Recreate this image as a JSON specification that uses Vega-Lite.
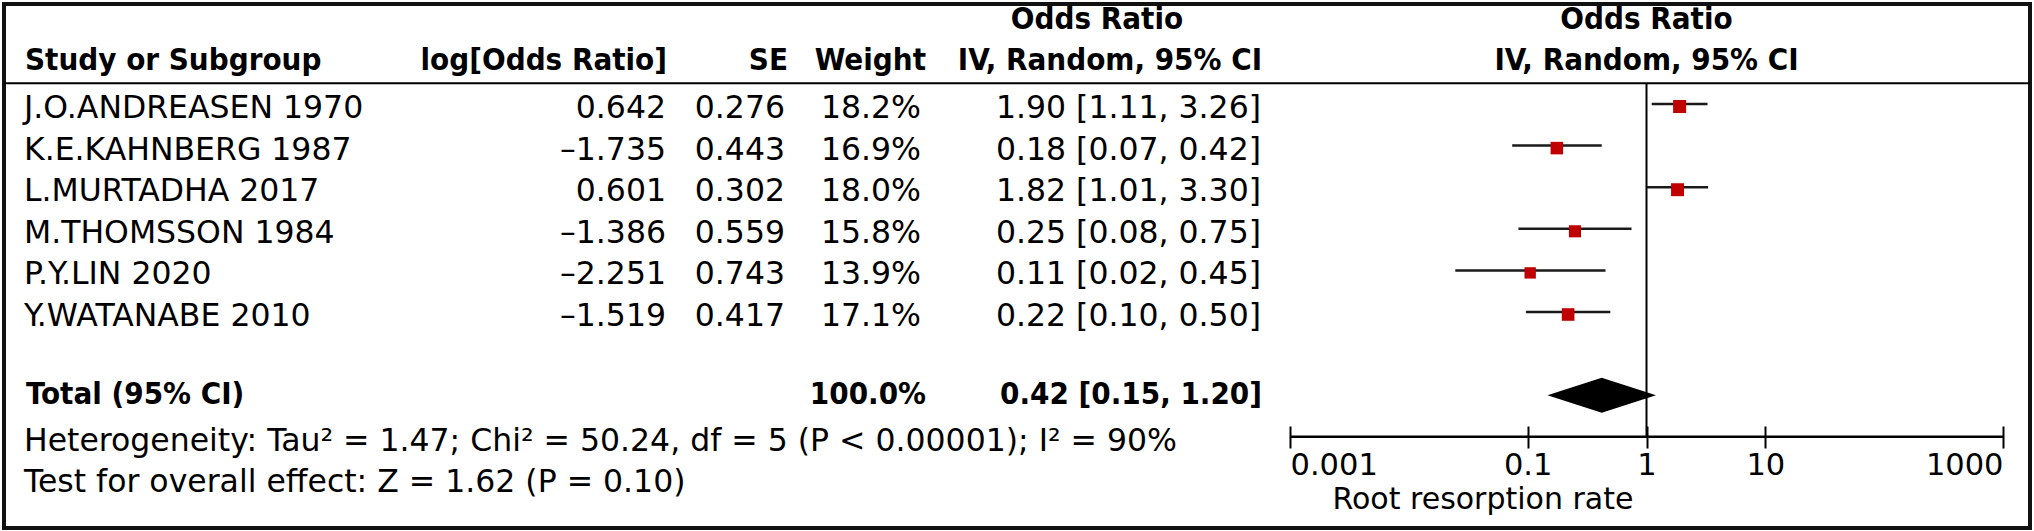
{
  "$schema": "https://vega.github.io/schema/vega-lite/v6.json",
  "width": 2026,
  "height": 524,
  "padding": {"left": 4, "top": 4, "right": 4, "bottom": 3},
  "autosize": {"type": "none"},
  "background": "white",
  "config": {
    "view": {"stroke": "#111", "strokeWidth": 4},
    "text": {"font": "DejaVu Sans", "fontSize": 31.5, "color": "#000", "baseline": "middle"},
    "locale": {"number": {"decimal": ".", "thousands": ",", "grouping": [3], "currency": ["$", ""], "minus": "\u2013"}}
  },
  "datasets": {
    "studies": [
      {"row": "J.O.ANDREASEN 1970", "logOR": 0.642, "se": 0.276, "weight": 0.182, "or": 1.900, "lo": 1.106, "hi": 3.264, "ci": "1.90 [1.11, 3.26]"},
      {"row": "K.E.KAHNBERG 1987", "logOR": -1.735, "se": 0.443, "weight": 0.169, "or": 0.176, "lo": 0.0741, "hi": 0.420, "ci": "0.18 [0.07, 0.42]"},
      {"row": "L.MURTADHA 2017", "logOR": 0.601, "se": 0.302, "weight": 0.180, "or": 1.824, "lo": 1.009, "hi": 3.297, "ci": "1.82 [1.01, 3.30]"},
      {"row": "M.THOMSSON 1984", "logOR": -1.386, "se": 0.559, "weight": 0.158, "or": 0.250, "lo": 0.0836, "hi": 0.748, "ci": "0.25 [0.08, 0.75]"},
      {"row": "P.Y.LIN 2020", "logOR": -2.251, "se": 0.743, "weight": 0.139, "or": 0.105, "lo": 0.0246, "hi": 0.452, "ci": "0.11 [0.02, 0.45]"},
      {"row": "Y.WATANABE 2010", "logOR": -1.519, "se": 0.417, "weight": 0.171, "or": 0.219, "lo": 0.0967, "hi": 0.496, "ci": "0.22 [0.10, 0.50]"}
    ],
    "total": [
      {"row": "Total (95% CI)", "weight": 1.0, "or": 0.42, "lo": 0.147, "hi": 1.20, "ci": "0.42 [0.15, 1.20]"}
    ],
    "notes": [
      {"row": "Heterogeneity", "text": "Heterogeneity: Tau² = 1.47; Chi² = 50.24, df = 5 (P < 0.00001); I² = 90%"},
      {"row": "Test for overall effect", "text": "Test for overall effect: Z = 1.62 (P = 0.10)"}
    ],
    "headers": [
      {"row": "h1", "col": "ciTop", "text": "Odds Ratio"},
      {"row": "h2", "col": "study", "text": "Study or Subgroup"},
      {"row": "h2", "col": "log", "text": "log[Odds Ratio]"},
      {"row": "h2", "col": "se", "text": "SE"},
      {"row": "h2", "col": "weight", "text": "Weight"},
      {"row": "h2", "col": "ci", "text": "IV, Random, 95% CI"},
      {"row": "h1", "col": "plot", "text": "Odds Ratio"},
      {"row": "h2", "col": "plot", "text": "IV, Random, 95% CI"}
    ]
  },
  "encoding": {
    "y": {
      "field": "row", "type": "nominal", "axis": null,
      "scale": {"type": "point", "padding": 0, "range": [16.8, 474.4],
        "domain": ["h1", "h2", "J.O.ANDREASEN 1970", "K.E.KAHNBERG 1987", "L.MURTADHA 2017", "M.THOMSSON 1984", "P.Y.LIN 2020", "Y.WATANABE 2010", "gap", "Total (95% CI)", "Heterogeneity", "Test for overall effect"]}
    }
  },
  "layer": [
    {
      "layer": [
        {
          "data": {"values": [{}]},
          "mark": {"type": "rule", "color": "#000", "strokeWidth": 2, "yOffset": 20.8},
          "encoding": {"y": {"datum": "h2", "type": "nominal"}}
        },
        {
          "data": {"values": [{}]},
          "mark": {"type": "rule", "color": "#000", "strokeWidth": 2, "yOffset": 20.8},
          "encoding": {
            "x": {"datum": 1, "type": "quantitative",
              "scale": {"type": "log", "domain": [0.001, 1000], "range": [1286, 1999], "nice": false},
              "axis": {"orient": "bottom", "offset": -102, "domain": false, "grid": false, "ticks": true, "tickSize": 22, "tickWidth": 2, "tickColor": "#000",
                "values": [0.001, 0.1, 1, 10, 1000], "format": "~g", "labelFlush": true, "labelOverlap": false, "labelBound": false, "labelPadding": 2,
                "labelFont": "DejaVu Sans", "labelFontSize": 30.5, "labelColor": "#000",
                "title": "Root resorption rate", "titleFont": "DejaVu Sans", "titleFontSize": 30, "titleFontWeight": "normal", "titleColor": "#000",
                "titleX": 1328, "titleY": 73, "titleAlign": "left", "titleBaseline": "middle", "titleAnchor": "start"}},
            "y": {"datum": "h2", "type": "nominal"},
            "y2": {"datum": "Heterogeneity"}
          }
        },
        {
          "data": {"values": [{}]},
          "mark": {"type": "rule", "color": "#000", "strokeWidth": 2.5},
          "encoding": {
            "x": {"datum": 0.001, "type": "quantitative", "scale": {"type": "log", "domain": [0.001, 1000], "range": [1286, 1999], "nice": false}},
            "x2": {"datum": 1000},
            "y": {"datum": "Heterogeneity", "type": "nominal"}
          }
        },
        {
          "data": {"name": "studies"},
          "mark": {"type": "rule", "color": "#1a1a1a", "strokeWidth": 2.5},
          "encoding": {
            "x": {"field": "lo", "type": "quantitative", "scale": {"type": "log", "domain": [0.001, 1000], "range": [1286, 1999], "nice": false}},
            "x2": {"field": "hi"}
          }
        },
        {
          "data": {"name": "studies"},
          "mark": {"type": "point", "shape": "square", "filled": true, "color": "#c00000", "opacity": 1, "yOffset": 2.5},
          "encoding": {
            "x": {"field": "or", "type": "quantitative", "scale": {"type": "log", "domain": [0.001, 1000], "range": [1286, 1999], "nice": false}},
            "size": {"field": "weight", "type": "quantitative", "scale": {"domain": [0, 0.2], "range": [0, 185.7]}, "legend": null}
          }
        },
        {
          "data": {"name": "total"},
          "mark": {"type": "point", "shape": "M-3.1,0L0,-1L3.1,0L0,1Z", "size": 1225, "filled": true, "color": "#000", "opacity": 1},
          "encoding": {
            "x": {"field": "or", "type": "quantitative", "scale": {"type": "log", "domain": [0.001, 1000], "range": [1286, 1999], "nice": false}}
          }
        },
        {
          "data": {"name": "headers"},
          "transform": [{"filter": "datum.col === 'plot'"}],
          "mark": {"type": "text", "align": "center", "font": "'DejaVu Sans Condensed', 'DejaVu Sans'", "fontWeight": "bold", "fontSize": 31, "yOffset": -1},
          "encoding": {
            "x": {"datum": 1, "type": "quantitative", "scale": {"type": "log", "domain": [0.001, 1000], "range": [1286, 1999], "nice": false}},
            "text": {"field": "text"}
          }
        }
      ]
    },
    {
      "layer": [
        {
          "data": {"name": "studies"},
          "mark": {"type": "text", "align": "left", "yOffset": 5},
          "encoding": {
            "x": {"datum": "study", "type": "nominal", "scale": {"type": "point", "domain": ["study"], "range": [20, 20]}, "axis": null},
            "text": {"field": "row"}
          }
        },
        {
          "data": {"name": "notes"},
          "mark": {"type": "text", "align": "left", "yOffset": 5},
          "encoding": {
            "x": {"datum": "study", "type": "nominal", "scale": {"type": "point", "domain": ["study"], "range": [20, 20]}, "axis": null},
            "text": {"field": "text"}
          }
        },
        {
          "data": {"name": "studies"},
          "mark": {"type": "text", "align": "right", "yOffset": 5},
          "encoding": {
            "x": {"datum": "log", "type": "nominal", "scale": {"type": "point", "domain": ["log"], "range": [662, 662]}, "axis": null},
            "text": {"field": "logOR", "type": "quantitative", "format": ".3f"}
          }
        },
        {
          "data": {"name": "studies"},
          "mark": {"type": "text", "align": "right", "yOffset": 5},
          "encoding": {
            "x": {"datum": "se", "type": "nominal", "scale": {"type": "point", "domain": ["se"], "range": [781, 781]}, "axis": null},
            "text": {"field": "se", "type": "quantitative", "format": ".3f"}
          }
        },
        {
          "data": {"name": "studies"},
          "mark": {"type": "text", "align": "right", "yOffset": 5},
          "encoding": {
            "x": {"datum": "weight", "type": "nominal", "scale": {"type": "point", "domain": ["weight"], "range": [917, 917]}, "axis": null},
            "text": {"field": "weight", "type": "quantitative", "format": ".1%"}
          }
        },
        {
          "data": {"name": "studies"},
          "mark": {"type": "text", "align": "right", "yOffset": 5},
          "encoding": {
            "x": {"datum": "ci", "type": "nominal", "scale": {"type": "point", "domain": ["ci"], "range": [1257, 1257]}, "axis": null},
            "text": {"field": "ci"}
          }
        },
        {
          "data": {"name": "headers"},
          "transform": [{"filter": "datum.col === 'study'"}],
          "mark": {"type": "text", "align": "left", "font": "'DejaVu Sans Condensed', 'DejaVu Sans'", "fontWeight": "bold", "fontSize": 31, "yOffset": -1},
          "encoding": {
            "x": {"datum": "study", "type": "nominal", "scale": {"type": "point", "domain": ["study"], "range": [21, 21]}, "axis": null},
            "text": {"field": "text"}
          }
        },
        {
          "data": {"name": "total"},
          "mark": {"type": "text", "align": "left", "font": "'DejaVu Sans Condensed', 'DejaVu Sans'", "fontWeight": "bold", "fontSize": 31},
          "encoding": {
            "x": {"datum": "study", "type": "nominal", "scale": {"type": "point", "domain": ["study"], "range": [22, 22]}, "axis": null},
            "text": {"field": "row"}
          }
        },
        {
          "data": {"name": "headers"},
          "transform": [{"filter": "datum.col === 'log'"}],
          "mark": {"type": "text", "align": "right", "font": "'DejaVu Sans Condensed', 'DejaVu Sans'", "fontWeight": "bold", "fontSize": 31, "yOffset": -1},
          "encoding": {
            "x": {"datum": "log", "type": "nominal", "scale": {"type": "point", "domain": ["log"], "range": [663, 663]}, "axis": null},
            "text": {"field": "text"}
          }
        },
        {
          "data": {"name": "headers"},
          "transform": [{"filter": "datum.col === 'se'"}],
          "mark": {"type": "text", "align": "right", "font": "'DejaVu Sans Condensed', 'DejaVu Sans'", "fontWeight": "bold", "fontSize": 31, "yOffset": -1},
          "encoding": {
            "x": {"datum": "se", "type": "nominal", "scale": {"type": "point", "domain": ["se"], "range": [784, 784]}, "axis": null},
            "text": {"field": "text"}
          }
        },
        {
          "data": {"name": "headers"},
          "transform": [{"filter": "datum.col === 'weight'"}],
          "mark": {"type": "text", "align": "right", "font": "'DejaVu Sans Condensed', 'DejaVu Sans'", "fontWeight": "bold", "fontSize": 31, "yOffset": -1},
          "encoding": {
            "x": {"datum": "weight", "type": "nominal", "scale": {"type": "point", "domain": ["weight"], "range": [922, 922]}, "axis": null},
            "text": {"field": "text"}
          }
        },
        {
          "data": {"name": "headers"},
          "transform": [{"filter": "datum.col === 'ci'"}],
          "mark": {"type": "text", "align": "right", "font": "'DejaVu Sans Condensed', 'DejaVu Sans'", "fontWeight": "bold", "fontSize": 31, "yOffset": -1},
          "encoding": {
            "x": {"datum": "ci", "type": "nominal", "scale": {"type": "point", "domain": ["ci"], "range": [1258, 1258]}, "axis": null},
            "text": {"field": "text"}
          }
        },
        {
          "data": {"name": "headers"},
          "transform": [{"filter": "datum.col === 'ciTop'"}],
          "mark": {"type": "text", "align": "center", "font": "'DejaVu Sans Condensed', 'DejaVu Sans'", "fontWeight": "bold", "fontSize": 31, "yOffset": -1},
          "encoding": {
            "x": {"datum": "ciTop", "type": "nominal", "scale": {"type": "point", "domain": ["ciTop"], "range": [1093, 1093]}, "axis": null},
            "text": {"field": "text"}
          }
        },
        {
          "data": {"name": "total"},
          "mark": {"type": "text", "align": "right", "font": "'DejaVu Sans Condensed', 'DejaVu Sans'", "fontWeight": "bold", "fontSize": 31},
          "encoding": {
            "x": {"datum": "weight", "type": "nominal", "scale": {"type": "point", "domain": ["weight"], "range": [922, 922]}, "axis": null},
            "text": {"field": "weight", "type": "quantitative", "format": ".1%"}
          }
        },
        {
          "data": {"name": "total"},
          "mark": {"type": "text", "align": "right", "font": "'DejaVu Sans Condensed', 'DejaVu Sans'", "fontWeight": "bold", "fontSize": 31},
          "encoding": {
            "x": {"datum": "ci", "type": "nominal", "scale": {"type": "point", "domain": ["ci"], "range": [1258, 1258]}, "axis": null},
            "text": {"field": "ci"}
          }
        }
      ],
      "resolve": {"scale": {"x": "independent"}}
    }
  ],
  "resolve": {"scale": {"x": "independent"}}
}
